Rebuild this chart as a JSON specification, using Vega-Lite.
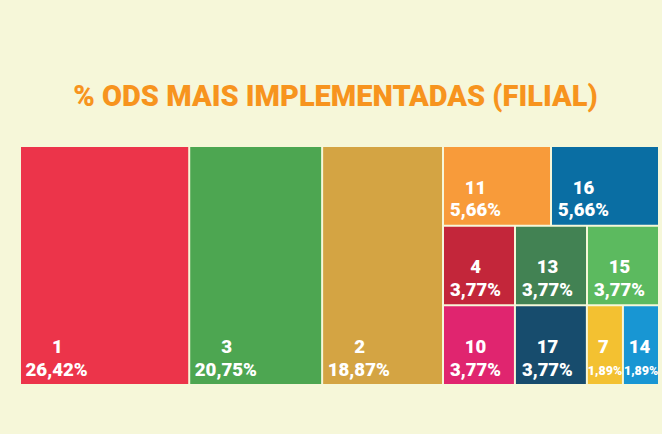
{
  "$schema": "https://vega.github.io/schema/vega-lite/v6.json",
  "background": "#F6F7D9",
  "padding": {"left": 21, "top": 83, "right": 2, "bottom": 51},
  "title": {"text": "% ODS MAIS IMPLEMENTADAS (FILIAL)", "font": "Roboto", "fontSize": 29, "fontWeight": 900, "color": "#F7941E", "anchor": "middle", "offset": 35, "dx": -5},
  "config": {
    "view": {"stroke": null},
    "locale": {"number": {"decimal": ",", "thousands": ".", "grouping": [3], "currency": ["R$", ""]}}
  },
  "datasets": {
    "ods": [
      {"ods": "1", "value": 0.2642, "panel": "A", "row": "r0", "ord": 1},
      {"ods": "3", "value": 0.2075, "panel": "A", "row": "r0", "ord": 2},
      {"ods": "2", "value": 0.1887, "panel": "A", "row": "r0", "ord": 3},
      {"ods": "11", "value": 0.0566, "panel": "B", "row": "r1", "ord": 1},
      {"ods": "16", "value": 0.0566, "panel": "B", "row": "r1", "ord": 2},
      {"ods": "4", "value": 0.0377, "panel": "B", "row": "r2", "ord": 1},
      {"ods": "13", "value": 0.0377, "panel": "B", "row": "r2", "ord": 2},
      {"ods": "15", "value": 0.0377, "panel": "B", "row": "r2", "ord": 3},
      {"ods": "10", "value": 0.0377, "panel": "B", "row": "r3", "ord": 1},
      {"ods": "17", "value": 0.0377, "panel": "B", "row": "r3", "ord": 2},
      {"ods": "7", "value": 0.0189, "panel": "B", "row": "r3", "ord": 3},
      {"ods": "14", "value": 0.0189, "panel": "B", "row": "r3", "ord": 4}
    ]
  },
  "spacing": 0,
  "hconcat": [
    {
      "width": 423,
      "height": 237,
      "data": {"name": "ods"},
      "transform": [
        {"filter": "datum.panel === 'A'"},
        {"stack": "value", "groupby": ["panel"], "sort": [{"field": "ord", "order": "ascending"}], "as": ["x0", "x1"]}
      ],
      "encoding": {
        "x": {"field": "x0", "type": "quantitative", "scale": {"domain": [0, 0.6604], "nice": false, "zero": true}, "axis": null},
        "y": {"field": "panel", "type": "nominal", "axis": null, "scale": {"paddingInner": 0, "paddingOuter": 0}}
      },
      "layer": [
        {
          "mark": {"type": "bar", "x2Offset": -2},
          "encoding": {
            "x2": {"field": "x1"},
            "color": {
              "field": "ods", "type": "nominal", "legend": null,
              "scale": {
                "domain": ["1", "3", "2", "11", "16", "4", "13", "15", "10", "17", "7", "14"],
                "range": ["#EC344A", "#4DA651", "#D4A443", "#F89B3A", "#0A6EA3", "#C3263A", "#428253", "#5CBA5F", "#E0256F", "#174C6D", "#F3C131", "#1896D3"]
              }
            }
          }
        },
        {
          "mark": {"type": "text", "align": "left", "baseline": "alphabetic", "dx": 4.5, "dy": -8.5, "font": "Roboto", "fontWeight": 900, "fontSize": 18.7, "color": "white"},
          "encoding": {
            "y": {"field": "panel", "type": "nominal", "bandPosition": 1},
            "text": {"field": "value", "type": "quantitative", "format": ".2%"}
          }
        },
        {
          "mark": {"type": "text", "align": "center", "baseline": "alphabetic", "dx": 36.5, "dy": -31.5, "font": "Roboto", "fontWeight": 900, "fontSize": 18.7, "color": "white"},
          "encoding": {
            "y": {"field": "panel", "type": "nominal", "bandPosition": 1},
            "text": {"field": "ods", "type": "nominal"}
          }
        }
      ]
    },
    {
      "width": 216,
      "height": 237,
      "data": {"name": "ods"},
      "transform": [
        {"filter": "datum.panel === 'B'"},
        {"stack": "value", "groupby": ["row"], "sort": [{"field": "ord", "order": "ascending"}], "as": ["x0", "x1"], "offset": "normalize"}
      ],
      "encoding": {
        "x": {"field": "x0", "type": "quantitative", "scale": {"domain": [0, 1], "nice": false, "zero": true}, "axis": null},
        "y": {"field": "row", "type": "ordinal", "axis": null, "scale": {"paddingInner": 0.0251, "paddingOuter": 0}}
      },
      "layer": [
        {
          "mark": {"type": "bar", "x2Offset": -2},
          "encoding": {
            "x2": {"field": "x1"},
            "color": {
              "field": "ods", "type": "nominal", "legend": null,
              "scale": {
                "domain": ["1", "3", "2", "11", "16", "4", "13", "15", "10", "17", "7", "14"],
                "range": ["#EC344A", "#4DA651", "#D4A443", "#F89B3A", "#0A6EA3", "#C3263A", "#428253", "#5CBA5F", "#E0256F", "#174C6D", "#F3C131", "#1896D3"]
              }
            }
          }
        },
        {
          "transform": [{"filter": "datum.value > 0.02"}],
          "mark": {"type": "text", "align": "left", "baseline": "alphabetic", "dx": 6, "dy": -8.5, "font": "Roboto", "fontWeight": 900, "fontSize": 18.5, "color": "white"},
          "encoding": {
            "y": {"field": "row", "type": "ordinal", "bandPosition": 1},
            "text": {"field": "value", "type": "quantitative", "format": ".2%"}
          }
        },
        {
          "transform": [{"filter": "datum.value > 0.02"}],
          "mark": {"type": "text", "align": "center", "baseline": "alphabetic", "dx": 31.5, "dy": -31, "font": "Roboto", "fontWeight": 900, "fontSize": 18.5, "color": "white"},
          "encoding": {
            "y": {"field": "row", "type": "ordinal", "bandPosition": 1},
            "text": {"field": "ods", "type": "nominal"}
          }
        },
        {
          "transform": [{"filter": "datum.value < 0.02"}],
          "mark": {"type": "text", "align": "left", "baseline": "alphabetic", "dx": 0, "dy": -9.5, "font": "Roboto", "fontWeight": 900, "fontSize": 12.5, "color": "white"},
          "encoding": {
            "y": {"field": "row", "type": "ordinal", "bandPosition": 1},
            "text": {"field": "value", "type": "quantitative", "format": ".2%"}
          }
        },
        {
          "transform": [{"filter": "datum.value < 0.02"}],
          "mark": {"type": "text", "align": "center", "baseline": "alphabetic", "dx": 15.5, "dy": -31, "font": "Roboto", "fontWeight": 900, "fontSize": 18.5, "color": "white"},
          "encoding": {
            "y": {"field": "row", "type": "ordinal", "bandPosition": 1},
            "text": {"field": "ods", "type": "nominal"}
          }
        }
      ]
    }
  ]
}
